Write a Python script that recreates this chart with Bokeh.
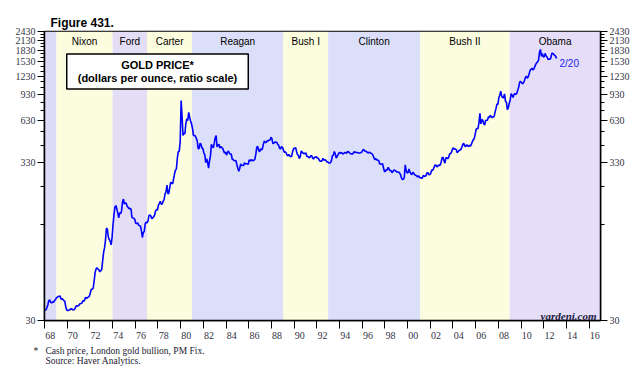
from bokeh.plotting import figure
from bokeh.models import (Range1d, FixedTicker, LogAxis, CustomJSTickFormatter,
                          PrintfTickFormatter, Label, LabelSet, ColumnDataSource, Title)
from bokeh.core.properties import value
from bokeh.embed import file_html
from bokeh.resources import INLINE

# ---- Gold price, monthly (USD per ounce), Jan 1968 .. Feb 2013 ----
gold_1968_1979 = [
    35.2, 35.2, 36.5, 38.0, 40.5, 41.1, 39.5, 39.2, 39.8, 39.5, 40.5, 41.1,
    42.3, 42.7, 43.2, 43.4, 43.5, 41.4, 41.8, 41.3, 40.6, 40.3, 36.8, 35.2,
    34.9, 35.0, 35.2, 35.7, 35.9, 35.4, 35.3, 35.4, 36.2, 37.5, 37.4, 37.4,
    37.9, 38.7, 38.9, 39.0, 40.5, 40.1, 41.0, 42.7, 42.0, 42.5, 42.9, 43.5,
    45.7, 48.3, 48.3, 49.0, 54.6, 62.1, 65.7, 67.0, 65.5, 64.9, 62.9, 63.9,
    65.1, 74.2, 84.4, 90.5, 102.0, 122.5, 120.2, 106.7, 103.0, 100.1, 94.8, 106.7,
    129.2, 150.2, 168.4, 172.2, 163.3, 154.1, 143.0, 154.6, 151.8, 158.8, 181.7, 190.0,
    176.0, 179.6, 178.0, 169.8, 167.4, 164.2, 165.5, 163.0, 144.1, 142.7, 142.2, 139.3,
    131.5, 131.0, 132.6, 127.9, 126.9, 125.7, 117.5, 106.0, 114.4, 116.0, 130.6, 133.9,
    132.3, 136.4, 148.3, 149.4, 146.7, 141.0, 143.4, 145.0, 149.5, 158.8, 162.0, 161.0,
    173.2, 178.2, 183.7, 175.4, 176.3, 183.7, 188.9, 206.1, 212.5, 235.0, 206.0, 207.8,
    227.3, 245.7, 242.1, 239.2, 257.6, 279.1, 294.7, 300.8, 355.1, 391.7, 392.5, 455.1,
]
gold_1980_1989 = [
    850.0, 665.3, 500.0, 517.4, 513.8, 600.7, 645.0, 626.4, 710.0, 661.1, 623.5, 594.9,
    557.6, 500.5, 499.8, 495.8, 479.7, 460.8, 409.3, 410.2, 443.2, 437.8, 413.4, 410.1,
    384.4, 374.2, 330.2, 350.5, 333.9, 304.0, 339.1, 364.9, 436.9, 422.0, 414.2, 444.3,
    481.3, 500.0, 419.5, 432.8, 437.4, 412.9, 422.7, 416.1, 411.6, 393.7, 381.6, 388.6,
    370.9, 386.8, 394.3, 381.3, 377.4, 377.7, 347.4, 347.7, 341.1, 340.2, 341.2, 320.2,
    302.8, 290.0, 304.0, 324.9, 316.6, 316.8, 317.4, 330.1, 323.5, 325.0, 325.4, 322.4,
    345.4, 339.2, 346.1, 340.8, 342.4, 342.6, 348.7, 376.5, 418.8, 423.3, 398.2, 390.8,
    408.3, 401.1, 408.9, 438.4, 460.2, 449.6, 450.5, 461.0, 460.2, 465.4, 467.4, 486.3,
    476.6, 442.1, 443.6, 452.0, 451.7, 451.5, 437.5, 431.9, 413.4, 406.6, 420.6, 418.6,
    404.0, 388.0, 390.2, 384.2, 371.0, 367.6, 375.0, 365.4, 362.0, 366.9, 393.9, 409.4,
]
gold_1990_1999 = [
    410.2, 416.9, 393.1, 374.3, 369.1, 352.3, 362.5, 395.2, 389.2, 380.7, 381.8, 378.2,
    383.6, 363.3, 363.5, 358.4, 356.8, 366.7, 367.7, 356.2, 348.8, 358.7, 359.8, 361.2,
    354.5, 353.9, 344.3, 338.6, 337.4, 340.8, 352.7, 343.3, 345.4, 344.4, 335.0, 334.7,
    329.0, 329.3, 330.1, 342.2, 367.2, 371.5, 392.1, 378.3, 354.9, 364.0, 373.9, 383.2,
    386.9, 381.9, 384.1, 377.3, 381.4, 385.6, 385.5, 380.4, 391.6, 389.8, 384.4, 379.3,
    378.6, 376.5, 382.1, 391.0, 385.2, 387.6, 386.2, 383.7, 383.1, 383.0, 385.5, 387.4,
    399.5, 404.8, 396.2, 392.9, 392.0, 385.3, 383.5, 387.5, 383.1, 381.1, 377.9, 369.3,
    355.0, 346.6, 351.8, 344.5, 343.8, 340.8, 324.1, 323.8, 322.8, 325.0, 306.0, 289.0,
    289.1, 297.5, 295.9, 308.4, 299.1, 292.3, 292.9, 284.1, 288.9, 296.1, 294.1, 291.4,
    287.1, 287.3, 285.9, 282.6, 276.4, 261.3, 256.1, 256.7, 264.7, 320.0, 293.2, 283.1,
]
gold_2000_2009 = [
    284.6, 300.0, 286.4, 279.7, 275.3, 285.7, 281.6, 274.5, 273.7, 270.0, 266.0, 271.5,
    265.5, 261.9, 263.0, 260.5, 272.4, 270.2, 267.5, 272.4, 283.4, 283.1, 276.2, 275.9,
    281.7, 295.5, 294.0, 302.7, 314.5, 321.2, 313.3, 310.3, 319.2, 316.6, 319.1, 333.0,
    356.9, 359.0, 340.6, 328.2, 355.7, 356.4, 351.0, 359.8, 378.9, 378.9, 389.9, 407.6,
    414.0, 405.3, 406.7, 403.0, 383.8, 392.4, 398.1, 400.5, 405.3, 420.5, 439.4, 441.8,
    424.0, 423.4, 434.2, 428.9, 421.9, 430.7, 424.5, 437.9, 456.0, 469.9, 476.7, 510.1,
    549.9, 555.0, 557.1, 610.7, 700.0, 596.2, 633.7, 632.6, 598.2, 585.8, 627.8, 629.8,
    631.2, 664.8, 654.9, 679.4, 666.9, 655.5, 665.3, 665.4, 712.7, 754.6, 806.3, 803.2,
    889.6, 922.3, 980.0, 909.7, 888.7, 889.5, 939.8, 839.0, 829.9, 740.0, 760.9, 816.1,
    858.7, 943.2, 924.3, 890.2, 928.6, 945.7, 934.2, 949.4, 996.6, 1043.2, 1127.0, 1134.7,
]
gold_2010_2013 = [
    1118.0, 1095.4, 1113.3, 1148.7, 1205.4, 1232.9, 1192.9, 1215.8, 1271.1, 1342.0, 1369.9, 1390.6,
    1356.4, 1372.7, 1424.0, 1473.8, 1510.4, 1528.7, 1572.8, 1780.0, 1850.0, 1665.2, 1738.9, 1652.3,
    1656.1, 1742.1, 1673.8, 1650.1, 1585.5, 1596.7, 1593.9, 1626.0, 1744.5, 1746.6, 1721.6, 1688.5,
    1671.9, 1610.0,
]
first_year = 1968
last_label = "2/20"

# ---- Presidential terms (shaded bands) ----
band_names = ["", "Nixon", "Ford", "Carter", "Reagan", "Bush I", "Clinton", "Bush II", "Obama"]
band_starts = [1968.0, 1969.05, 1974.0, 1977.05, 1981.0, 1989.05, 1993.0, 2001.1, 2009.0]
band_ends = [1969.05, 1974.0, 1977.05, 1981.0, 1989.05, 1993.0, 2001.1, 2009.0, 2017.0]
band_colors = ["#dcdcf8", "#fcfcde", "#e4ddf6", "#fcfcde", "#dcdff9",
               "#fcfcde", "#dcdff9", "#fcfcde", "#e6def8"]

# ---- Axes ----
x_start, x_end = 1968, 2017
x_label_years = list(range(1968, 2017, 2))
y_min, y_max = 30, 2430
y_ticks = [30, 330, 630, 930, 1230, 1530, 1830, 2130, 2430]
y_minor_ticks = [130, 230, 430, 530, 730, 830, 1030, 1130, 1330, 1430,
                 1630, 1730, 1930, 2030, 2230, 2330]

footnote_1 = "Cash price, London gold bullion, PM Fix."
footnote_2 = "Source: Haver Analytics."

gold = gold_1968_1979 + gold_1980_1989 + gold_1990_1999 + gold_2000_2009 + gold_2010_2013
dates = [first_year + (i + 0.5) / 12 for i in range(len(gold))]

p = figure(width=632, height=370, x_range=Range1d(x_start, x_end),
           y_range=Range1d(y_min, y_max), y_axis_type="log",
           output_backend="svg", toolbar_location=None,
           min_border_left=44, min_border_right=31, min_border_top=31,
           min_border_bottom=50)
p.background_fill_color = "white"
p.border_fill_color = "white"
p.outline_line_color = "black"
p.outline_line_width = 1.5
p.xgrid.visible = False
p.ygrid.visible = False

p.title.text = "Figure 431."
p.title.align = "left"
p.title.offset = 6
p.title.standoff = 4
p.title.text_font = "Liberation Sans"
p.title.text_font_style = "bold"
p.title.text_font_size = "12px"
p.title.text_color = "black"

band_src = ColumnDataSource(dict(
    left=band_starts, right=band_ends, color=band_colors, name=band_names,
    mid=[(a + b) / 2 for a, b in zip(band_starts, band_ends)]))
p.quad(left="left", right="right", bottom=y_min, top=y_max, fill_color="color",
       line_color=None, source=band_src)

p.line(dates, gold, line_color="#0000ff", line_width=1.6)

p.add_layout(LabelSet(x="mid", y=y_max, text="name", source=band_src,
                      text_align="center", text_baseline="top", y_offset=-4,
                      text_font=value("Liberation Sans"), text_font_size="10px",
                      text_color="black"))

# x axis: ticks at even-year starts (drawn as minor ticks), labels mid-year
xa = p.xaxis[0]
xa.ticker = FixedTicker(ticks=[y + 0.5 for y in x_label_years], minor_ticks=x_label_years)
xa.formatter = CustomJSTickFormatter(
    code="const y = Math.floor(tick) % 100; return (y < 10 ? '0' : '') + y;")
xa.major_tick_line_color = None
xa.major_tick_out = 0
xa.major_tick_in = 0
xa.minor_tick_line_color = "black"
xa.minor_tick_out = 8
xa.minor_tick_in = 0
xa.minor_tick_line_width = 1
xa.axis_line_color = "black"
xa.axis_line_width = 1.5
xa.major_label_standoff = 3
xa.major_label_text_font = "Liberation Serif"
xa.major_label_text_font_size = "10px"
xa.major_label_text_color = "#333344"


def style_y(ax):
    ax.ticker = FixedTicker(ticks=y_ticks, minor_ticks=y_minor_ticks)
    ax.formatter = PrintfTickFormatter(format="%d")
    ax.axis_line_color = "black"
    ax.axis_line_width = 1.5
    ax.major_tick_line_color = "black"
    ax.major_tick_out = 7
    ax.major_tick_in = 0
    ax.minor_tick_line_color = "black"
    ax.minor_tick_out = 4
    ax.minor_tick_in = 0
    ax.major_label_standoff = 2
    ax.major_label_text_font = "Liberation Serif"
    ax.major_label_text_font_size = "10px"
    ax.major_label_text_color = "#333344"


style_y(p.yaxis[0])
right_axis = LogAxis()
style_y(right_axis)
p.add_layout(right_axis, "right")

# footnotes below the x axis (one two-line title; second line indented with nbsp)
p.add_layout(Title(text="*\u00a0\u00a0\u00a0" + footnote_1 + "\n" + "\u00a0" * 5 + footnote_2,
                   offset=-11, standoff=4, align="left",
                   text_font="Liberation Serif", text_font_size="9.5px",
                   text_font_style="normal", text_color="#1a1a30",
                   text_line_height=0.95),
             "below")

# annotations inside the frame
p.add_layout(Label(x=113, y=249, x_units="screen", y_units="screen",
                   text="GOLD PRICE*\n(dollars per ounce, ratio scale)",
                   text_align="center", text_baseline="middle", text_line_height=1.1,
                   text_font="Liberation Sans", text_font_style="bold",
                   text_font_size="11px", text_color="black",
                   background_fill_color="white", border_line_color="black",
                   border_line_width=1.5, padding=(11, 5)))

p.add_layout(Label(x=dates[-1], y=gold[-1], text=last_label, x_offset=3, y_offset=-5,
                   text_baseline="middle", text_align="left",
                   text_font="Liberation Sans", text_font_size="10px",
                   text_color="#2222ee"))

p.add_layout(Label(x=552, y=5, x_units="screen", y_units="screen", text="yardeni.com",
                   text_align="right", text_baseline="alphabetic",
                   text_font="Liberation Serif", text_font_style="bold italic",
                   text_font_size="11px", text_color="#1a1a40"))

open("out.html", "w").write(file_html(p, INLINE))
